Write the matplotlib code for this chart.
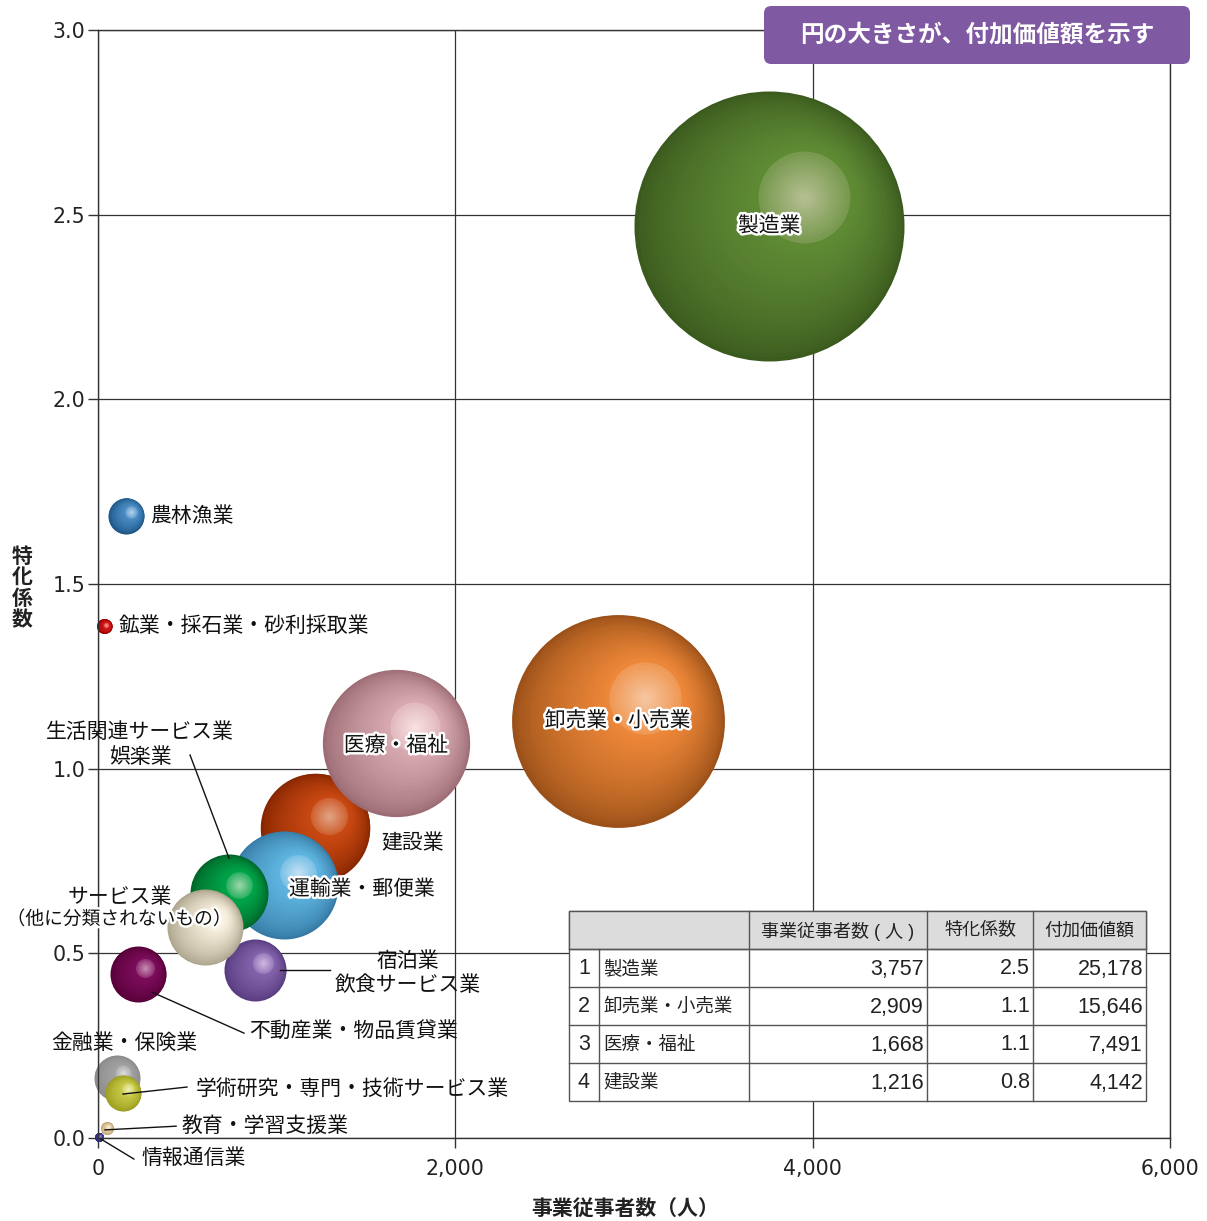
import numpy as np
import matplotlib
matplotlib.use('Agg')
import matplotlib.pyplot as plt
import matplotlib.patheffects as pe
from matplotlib.transforms import ScaledTranslation
from matplotlib.patches import FancyBboxPatch, Rectangle
from matplotlib.ticker import FuncFormatter

plt.rcParams['font.family'] = ['Noto Sans CJK JP', 'DejaVu Sans']

# data (industry order)
industries = ['農林漁業', '鉱業・採石業・砂利採取業', '建設業', '製造業', '情報通信業',
              '運輸業・郵便業', '卸売業・小売業', '金融業・保険業', '不動産業・物品賃貸業',
              '学術研究・専門・技術サービス業', '宿泊業・飲食サービス業', '生活関連サービス業娯楽業',
              '教育・学習支援業', '医療・福祉', 'サービス業（他に分類されないもの）']
employees = [157, 36, 1216, 3757, 6, 1041, 2909, 106, 224, 140, 879, 733, 48, 1668, 599]
coef = [1.685, 1.385, 0.84, 2.47, 0.003, 0.686, 1.13, 0.162, 0.444, 0.122, 0.455, 0.663, 0.026, 1.07, 0.571]
value_added = [448, 78, 4142, 25178, 28, 4028, 15646, 731, 1083, 448, 1328, 2101, 58, 7491, 1995]

x_ticks = [0, 2000, 4000, 6000]
y_ticks = [0.0, 0.5, 1.0, 1.5, 2.0, 2.5, 3.0]

# colours: (edge, body, highlight)
colors = [('#1c5486', '#4a8cc4', '#b0d0ec'),
          ('#8a0000', '#dc1a1a', '#f4a0a0'),
          ('#862600', '#c84812', '#e0a080'),
          ('#3a5a1e', '#5f8a34', '#b2bd8e'),
          ('#262070', '#4a40a0', '#9890cc'),
          ('#357aa4', '#5eb4e0', '#c0e0f4'),
          ('#9a5018', '#ec8638', '#f6c49c'),
          ('#8a8a8a', '#a2a2a2', '#dadada'),
          ('#560038', '#7c0c5a', '#c488b0'),
          ('#9a9a1c', '#c8c848', '#eeeeb4'),
          ('#573a7e', '#8262aa', '#ccb6e0'),
          ('#006428', '#00a448', '#98d4a8'),
          ('#bca070', '#e8d0a8', '#faf2e4'),
          ('#9c6c74', '#d8a8b0', '#f8e0e0'),
          ('#aaa28a', '#f0e8d4', '#fffcf2')]

fig = plt.figure(figsize=(12.07, 12.21), dpi=100)
ax = fig.add_axes([98 / 1207, 83 / 1221, 1072 / 1207, 1108 / 1221])
ax.set_xlim(0, 6000)
ax.set_ylim(0, 3.0)
ax.set_xticks(x_ticks)
ax.set_yticks(y_ticks)
ax.xaxis.set_major_formatter(FuncFormatter(lambda v, p: '{:,.0f}'.format(v)))
ax.yaxis.set_major_formatter(FuncFormatter(lambda v, p: '{:.1f}'.format(v)))
ax.tick_params(direction='out', length=7, width=1, color='#333333', labelsize=14.8, pad=2)
ax.tick_params(axis='x', pad=8)
for lab in ax.get_xticklabels() + ax.get_yticklabels():
    lab.set_fontfamily('DejaVu Sans')
    lab.set_color('#222222')
for sp in ax.spines.values():
    sp.set_color('#333333')
    sp.set_linewidth(1)
ax.grid(True, color='#333333', linewidth=0.9)
ax.set_axisbelow(True)


def mix(c1, c2, t):
    a = np.array(matplotlib.colors.to_rgb(c1))
    b = np.array(matplotlib.colors.to_rgb(c2))
    return tuple(a + (b - a) * t)


def ball(x, y, s, edge, body, hi):
    r = np.sqrt(s) / 2
    hx, hy = 0.26 * r, 0.21 * r
    n = 30
    for i in range(n):
        t = i / (n - 1)
        f = 1 - 0.62 * t
        off = ScaledTranslation(t * hx / 72, t * hy / 72, fig.dpi_scale_trans)
        ax.scatter([x], [y], s=(2 * r * f) ** 2, color=mix(edge, body, t ** 0.7),
                   linewidths=0, transform=ax.transData + off, zorder=2, clip_on=False)
    off = ScaledTranslation(hx / 72, hy / 72, fig.dpi_scale_trans)
    m = 14
    for i in range(m):
        u = i / (m - 1)
        ax.scatter([x], [y], s=(2 * r * 0.34 * (1 - 0.9 * u)) ** 2,
                   color=mix(body, hi, 0.3 + 0.7 * u), linewidths=0,
                   transform=ax.transData + off, zorder=2, clip_on=False)


size_k = 1.501
for i in range(len(industries)):
    ball(employees[i], coef[i], value_added[i] * size_k, *colors[i])

halo = [pe.withStroke(linewidth=3.5, foreground='white')]
lab_kw = dict(fontsize=15, color='#111111', zorder=6)

# labels inside bubbles
ax.text(employees[3], coef[3], '製造業', ha='center', va='center', path_effects=halo, **lab_kw)
ax.text(employees[6], coef[6], '卸売業・小売業', ha='center', va='center', path_effects=halo, **lab_kw)
ax.text(employees[13], coef[13] - 0.007, '医療・福祉', ha='center', va='center', path_effects=halo, **lab_kw)
ax.text(1478, 0.674, '運輸業・郵便業', ha='center', va='center', path_effects=halo, **lab_kw)
ax.text(1763, 0.799, '建設業', ha='center', va='center', **lab_kw)

ax.text(291, 1.684, '農林漁業', ha='left', va='center', **lab_kw)
ax.text(118, 1.386, '鉱業・採石業・砂利採取業', ha='left', va='center', **lab_kw)
ax.text(235, 1.098, '生活関連サービス業', ha='center', va='center', **lab_kw)
ax.text(235, 1.032, '娯楽業', ha='center', va='center', **lab_kw)
ax.text(123, 0.653, 'サービス業', ha='center', va='center', **lab_kw)
ax.text(118, 0.593, '（他に分類されないもの）', ha='center', va='center', fontsize=13.5,
        color='#111111', zorder=6, path_effects=halo)
ax.text(1735, 0.479, '宿泊業', ha='center', va='center', **lab_kw)
ax.text(1735, 0.414, '飲食サービス業', ha='center', va='center', **lab_kw)
ax.text(845, 0.290, '不動産業・物品賃貸業', ha='left', va='center', **lab_kw)
ax.text(146, 0.257, '金融業・保険業', ha='center', va='center', **lab_kw)
ax.text(548, 0.133, '学術研究・専門・技術サービス業', ha='left', va='center', **lab_kw)
ax.text(470, 0.032, '教育・学習支援業', ha='left', va='center', **lab_kw)
ax.text(246, -0.054, '情報通信業', ha='left', va='center', clip_on=False, **lab_kw)

# leader lines
leaders = [((515, 1.037), (733, 0.758)),
           ((1019, 0.455), (1299, 0.455)),
           ((302, 0.395), (817, 0.284)),
           ((140, 0.119), (498, 0.138)),
           ((39, 0.022), (437, 0.032)),
           ((17, -0.003), (201, -0.057))]
for a, b in leaders:
    ax.plot([a[0], b[0]], [a[1], b[1]], color='#111111', lw=1, zorder=5, clip_on=False)

# axis titles
fig.text(22 / 1207, 1 - 588 / 1221, '特\n化\n係\n数', ha='center', va='center', fontsize=15,
         fontweight='bold', linespacing=1.0, color='#222222')
fig.text(625 / 1207, 1 - 1208 / 1221, '事業従事者数（人）', ha='center', va='center', fontsize=15,
         fontweight='bold', color='#222222')

# note box
box = FancyBboxPatch((764 / 1207, 1 - 64 / 1221), 426 / 1207, 58 / 1221,
                     boxstyle='round,pad=0,rounding_size=0.006', transform=fig.transFigure,
                     facecolor='#7f5aa3', edgecolor='none', zorder=10)
fig.add_artist(box)
fig.text(977 / 1207, 1 - 35 / 1221, '円の大きさが、付加価値額を示す', ha='center', va='center',
         fontsize=17, fontweight='bold', color='white', zorder=11)

# top-4 table
order = sorted(range(len(industries)), key=lambda i: -value_added[i])[:4]
col_w = [30, 150, 178, 106, 113]
tx0, ty0, row_h = 569, 911, 38
hdr = ['事業従事者数 ( 人 )', '特化係数', '付加価値額']


def ax_xy(px, py):
    return (px - 98) / 1072, (1138 - py) / 1108


tkw = dict(transform=ax.transAxes, fontsize=13, color='#222222', zorder=8,
           family=['Liberation Sans', 'Noto Sans CJK JP'])
total_w = sum(col_w)
nrows = len(order) + 1
x0, y0 = ax_xy(tx0, ty0 + row_h * nrows)
ax.add_patch(Rectangle((x0, y0), total_w / 1072, row_h * nrows / 1108, transform=ax.transAxes,
                       facecolor='white', edgecolor='#555555', lw=1, zorder=7))
hx0, hy0 = ax_xy(tx0, ty0 + row_h)
ax.add_patch(Rectangle((hx0, hy0), total_w / 1072, row_h / 1108, transform=ax.transAxes,
                       facecolor='#dcdcdc', edgecolor='#555555', lw=1, zorder=7))
# horizontal lines
for r in range(1, nrows):
    xa, ya = ax_xy(tx0, ty0 + row_h * r)
    xb, _ = ax_xy(tx0 + total_w, 0)
    ax.plot([xa, xb], [ya, ya], transform=ax.transAxes, color='#555555', lw=1, zorder=8)
# vertical lines
edges = np.cumsum([tx0] + col_w)
for k, ex in enumerate(edges[1:-1], start=1):
    top = ty0 + row_h if k == 1 else ty0
    xa, ya = ax_xy(ex, top)
    _, yb = ax_xy(ex, ty0 + row_h * nrows)
    ax.plot([xa, xa], [ya, yb], transform=ax.transAxes, color='#555555', lw=1, zorder=8)
# header text
for k, h in enumerate(hdr):
    cx = (edges[k + 2] + edges[k + 3]) / 2
    px, py = ax_xy(cx, ty0 + row_h / 2 + 1)
    ax.text(px, py, h, ha='center', va='center', **tkw)
# rows
for r, i in enumerate(order):
    cy = ty0 + row_h * (r + 1) + row_h / 2 + 1
    cells = [str(r + 1), industries[i], '{:,}'.format(employees[i]), '{:.1f}'.format(coef[i]),
             '{:,}'.format(value_added[i])]
    for k, c in enumerate(cells):
        if k == 0:
            px, py = ax_xy((edges[0] + edges[1]) / 2, cy)
            ha = 'center'
        elif k == 1:
            px, py = ax_xy(edges[1] + 4, cy)
            ha = 'left'
        else:
            px, py = ax_xy(edges[k + 1] - 3, cy)
            ha = 'right'
        ax.text(px, py, c, ha=ha, va='center', **dict(tkw, fontsize=15.5 if k != 1 else 13.3))

fig.savefig('out.png', dpi=100)
